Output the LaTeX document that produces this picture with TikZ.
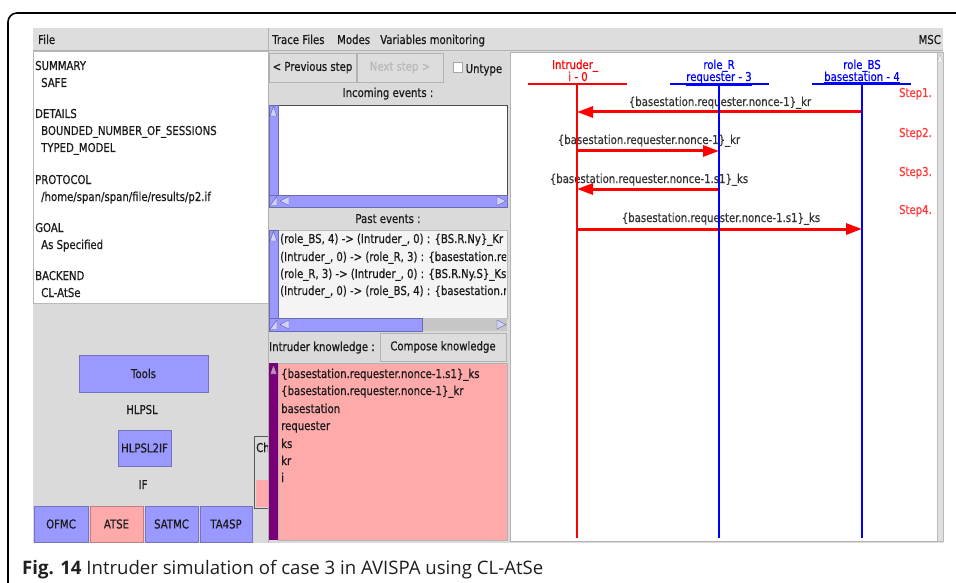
\documentclass[tikz,border=0pt]{standalone}
\usepackage{fontspec}
\setmainfont{DejaVu Sans}
\newfontfamily\gui[FakeStretch=0.83,FakeBold=0.6]{DejaVu Sans}
\newfontfamily\capfont{Open Sans}
\usetikzlibrary{arrows.meta}
\definecolor{panel}{HTML}{DADADA}
\definecolor{menubar}{HTML}{DDDDDD}
\definecolor{lav}{HTML}{9999FF}
\definecolor{rose}{HTML}{FFAAAA}
\definecolor{plum}{HTML}{7A007A}
\definecolor{msgred}{HTML}{FF0000}
\definecolor{msgblue}{HTML}{0000FF}
\definecolor{steptext}{HTML}{FF3838}
\definecolor{guitext}{HTML}{1A1A1A}

\begin{document}
\begin{tikzpicture}[x=1pt,y=-1pt,
  gui/.style={font=\gui\fontsize{12.2}{14}\selectfont, inner sep=0pt, text=guitext},
  lt/.style={gui, anchor=base west},
  ct/.style={gui, anchor=base},
  btn/.style={gui, fill=lav, draw=lav!75!black, line width=0.6pt, anchor=center},
  pinkbtn/.style={btn, fill=rose, draw=rose!75!black},
  greybtn/.style={gui, fill=menubar, draw=gray!60, line width=0.6pt, anchor=center},
  lifeR/.style={draw=msgred, line width=2.7pt},
  lifeB/.style={draw=msgblue, line width=2.7pt},
  msg/.style={draw=msgred, line width=3pt, -{Triangle[length=16pt,width=11pt]}},
  msglabel/.style={gui, anchor=base, text=black!80},
  steplabel/.style={gui, anchor=base east, text=steptext},
  scrollarrow/.style={fill=lav!45!white, draw=lav!60!black, line width=0.4pt},
]
\useasboundingbox (0,0) rectangle (956,583);
\fill[white] (0,0) rectangle (956,583);

% outer frame (only the top-left corner lies inside the page)
\draw[line width=1.6pt, rounded corners=9pt] (8,590) -- (8,13) -- (970,13);

% application window background and menu bar
\fill[panel] (33,28) rectangle (943,543);
\fill[menubar] (33,28) rectangle (943,50);
\draw[gray!60, line width=0.6pt] (33,50) -- (943,50);
\draw[gray!60, line width=0.6pt] (268,28) -- (268,50);
\node[lt] (mfile) at (38,44) {File};
\node[lt] (mtrace) at (272,44) {Trace Files};
\node[lt] (mmodes) at (337,44) {Modes};
\node[lt] (mvars) at (380,44) {Variables monitoring};
\node[gui, anchor=base east] (mmsc) at (941,44) {MSC};

% ---------------- left panel: result summary ----------------
\filldraw[fill=white, draw=gray!55, line width=0.6pt] (33,51) rectangle (268,303);
\node[lt] (sumh) at (35,70) {SUMMARY};
\node[lt] (sumv) at (41,87) {SAFE};
\node[lt] (deth) at (35,118) {DETAILS};
\node[lt] (detv1) at (41,135) {BOUNDED\_NUMBER\_OF\_SESSIONS};
\node[lt] (detv2) at (41,152) {TYPED\_MODEL};
\node[lt] (proh) at (35,184) {PROTOCOL};
\node[lt] (prov) at (41,201) {/home/span/span/file/results/p2.if};
\node[lt] (goah) at (35,232) {GOAL};
\node[lt] (goav) at (41,249) {As Specified};
\node[lt] (bach) at (35,280) {BACKEND};
\node[lt] (bacv) at (41,297) {CL-AtSe};

% tool chain buttons
\node[btn, minimum width=129pt, minimum height=37pt] (tools) at (143.5,373.5) {Tools};
\node[ct] (hlpsl) at (142,414) {HLPSL};
\node[btn, minimum width=53pt, minimum height=36pt] (h2if) at (144.5,448) {HLPSL2IF};
\node[ct] (iflab) at (143,489) {IF};
\node[btn, minimum width=54pt, minimum height=36pt] (ofmc) at (61,524) {OFMC};
\node[pinkbtn, minimum width=53pt, minimum height=36pt] (atse) at (116.5,524) {ATSE};
\node[btn, minimum width=53pt, minimum height=36pt] (satmc) at (171.5,524) {SATMC};
\node[btn, minimum width=52pt, minimum height=36pt] (ta4sp) at (226,524) {TA4SP};

% partly hidden frame behind the middle panel
\filldraw[fill=panel, draw=black!65, line width=0.6pt] (254,436) rectangle (270,508);
\fill[rose] (255.5,480) rectangle (268,506.5);
\begin{scope}
  \clip (255,437) rectangle (268,470);
  \node[lt] (chlab) at (256,452) {Ch};
\end{scope}

% ---------------- middle panel: trace ----------------
\fill[panel] (268,51) rectangle (510,543);
\draw[gray!60, line width=0.6pt] (268,51) -- (268,543);
\node[greybtn, minimum width=87pt, minimum height=29pt] (prev) at (312.5,67.5) {< Previous step};
\node[greybtn, minimum width=86pt, minimum height=29pt, text=gray!55] (next) at (400,67.5) {Next step >};
\filldraw[fill=white, draw=gray!70, line width=0.5pt] (453,62) rectangle (462,72);
\node[lt] (untype) at (465.5,73) {Untype};

\node[ct] (inclab) at (388,97) {Incoming events :};
\filldraw[fill=white, draw=black!70, line width=0.8pt] (278,105) rectangle (507,195);
\filldraw[fill=lav, draw=lav!70!black, line width=0.4pt] (269,105) rectangle (278,195);
\filldraw[scrollarrow] (270,116) -- (273.5,106.5) -- (277,116) -- cycle;
\filldraw[fill=lav, draw=lav!70!black, line width=0.4pt] (269,195) rectangle (507,207);
\filldraw[scrollarrow] (270,205.5) -- (277,196.5) -- (277,205.5) -- cycle;
\filldraw[scrollarrow] (289,196.5) -- (280,201) -- (289,205.5) -- cycle;
\filldraw[scrollarrow] (497,196.5) -- (506,201) -- (497,205.5) -- cycle;

\node[ct] (pastlab) at (388,223) {Past events :};
\filldraw[fill=gray!9, draw=gray!55, line width=0.6pt] (278,230) rectangle (507,318);
\filldraw[fill=lav, draw=lav!70!black, line width=0.4pt] (269,230) rectangle (278,318);
\filldraw[scrollarrow] (270,241) -- (273.5,231.5) -- (277,241) -- cycle;
\begin{scope}
  \clip (279,231) rectangle (506,317);
  \node[lt] (past1) at (280,243) {(role\_BS, 4) -> (Intruder\_, 0) : \{BS.R.Ny\}\_Kr};
  \node[lt] (past2) at (280,261) {(Intruder\_, 0) -> (role\_R, 3) : \{basestation.requester};
  \node[lt] (past3) at (280,278) {(role\_R, 3) -> (Intruder\_, 0) : \{BS.R.Ny.S\}\_Ks};
  \node[lt] (past4) at (280,295) {(Intruder\_, 0) -> (role\_BS, 4) : \{basestation.requester};
\end{scope}
\fill[gray!45] (269,318) rectangle (507,331);
\filldraw[fill=lav, draw=lav!70!black, line width=0.4pt] (269,318) rectangle (422,331);
\filldraw[scrollarrow] (270,329.5) -- (277,320) -- (277,329.5) -- cycle;
\filldraw[scrollarrow] (289,320) -- (280,324.5) -- (289,329) -- cycle;
\filldraw[scrollarrow] (497,320) -- (506,324.5) -- (497,329) -- cycle;

\node[lt] (knowlab) at (269,351) {Intruder knowledge :};
\node[greybtn, minimum width=126pt, minimum height=28pt] (compose) at (443,347) {Compose knowledge};

\filldraw[fill=rose, draw=gray!60, line width=0.6pt] (278,363) rectangle (507,540);
\fill[plum] (269,363) rectangle (278,540);
\filldraw[fill=plum!45!white, draw=plum!60!black, line width=0.4pt] (270,374) -- (273.5,364.5) -- (277,374) -- cycle;
\node[lt] (kn1) at (281,378) {\{basestation.requester.nonce-1.s1\}\_ks};
\node[lt] (kn2) at (281,395) {\{basestation.requester.nonce-1\}\_kr};
\node[lt] (kn3) at (281,413) {basestation};
\node[lt] (kn4) at (281,430) {requester};
\node[lt] (kn5) at (281,448) {ks};
\node[lt] (kn6) at (281,465) {kr};
\node[lt] (kn7) at (281,482) {i};

% ---------------- right panel: message sequence chart ----------------
\filldraw[fill=white, draw=gray!60, line width=0.6pt] (510,52) rectangle (937,541);
\filldraw[fill=gray!25, draw=gray!55, line width=0.5pt] (937,52) rectangle (943,541);
\filldraw[fill=gray!10, draw=gray!55, line width=0.4pt] (937.5,62) -- (940,54) -- (942.5,62) -- cycle;

% lifeline headers
\node[ct, text=msgred] (intname) at (575,69) {Intruder\_};
\node[ct, text=msgred] (intid) at (578,81) {i - 0};
\node[ct, text=msgblue] (rname) at (719,69) {role\_R};
\node[ct, text=msgblue] (rid) at (719,81) {\underline{requester - 3}};
\node[ct, text=msgblue] (bsname) at (862,69) {role\_BS};
\node[ct, text=msgblue] (bsid) at (862,81) {\underline{basestation - 4}};
\draw[lifeR] (528,84) -- (627,84);
\draw[lifeB] (670,84) -- (769,84);
\draw[lifeB] (812,84) -- (911,84);

% lifeline end points and message anchors
\coordinate (intTop) at (577,84);  \coordinate (intBot) at (577,538);
\coordinate (rTop)   at (719,84);  \coordinate (rBot)   at (719,538);
\coordinate (bsTop)  at (862,84);  \coordinate (bsBot)  at (862,538);
\coordinate (i1) at (577,112); \coordinate (b1) at (862,112);
\coordinate (i2) at (577,151); \coordinate (r2) at (719,151);
\coordinate (i3) at (577,189); \coordinate (r3) at (719,189);
\coordinate (i4) at (577,229); \coordinate (b4) at (862,229);

% message labels
\node[msglabel] (m1) at (720,106) {\{basestation.requester.nonce-1\}\_kr};
\node[msglabel] (m2) at (649,144) {\{basestation.requester.nonce-1\}\_kr};
\node[msglabel] (m3) at (649,183) {\{basestation.requester.nonce-1.s1\}\_ks};
\node[msglabel] (m4) at (721,222) {\{basestation.requester.nonce-1.s1\}\_ks};

% messages
\draw[msg] (b1) -- (i1);
\draw[msg] (i2) -- (r2);
\draw[msg] (r3) -- (i3);
\draw[msg] (i4) -- (b4);

% lifelines
\draw[lifeR] (intTop) -- (intBot);
\draw[lifeB] (rTop) -- (rBot);
\draw[lifeB] (bsTop) -- (bsBot);

% step markers
\node[steplabel] (s1) at (932,97) {Step1.};
\node[steplabel] (s2) at (932,137) {Step2.};
\node[steplabel] (s3) at (932,176) {Step3.};
\node[steplabel] (s4) at (932,214) {Step4.};

% caption
\node[anchor=base west, inner sep=0pt, text=black!88, font=\capfont\fontsize{18.6}{22}\selectfont] (caption) at (22,574)
  {\textbf{Fig. 14} Intruder simulation of case 3 in AVISPA using CL-AtSe};
\end{tikzpicture}
\end{document}
